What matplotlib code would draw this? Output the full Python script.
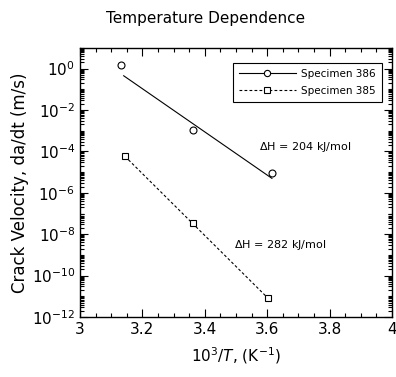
import numpy as np
import matplotlib
matplotlib.use('Agg')
import matplotlib.pyplot as plt
from matplotlib.ticker import LogLocator, MultipleLocator, NullFormatter, FixedLocator, FuncFormatter

# Specimen 386 (circles, solid fit line)
x_386 = [3.13, 3.362, 3.615]
v_386 = [1.5, 1.1e-3, 8.7e-6]
fit_x_386 = [3.14, 3.615]
fit_v_386 = [4.5e-1, 5.0e-6]

# Specimen 385 (squares, dashed fit line)
x_385 = [3.144, 3.362, 3.603]
v_385 = [5.8e-5, 3.5e-8, 8.0e-12]
fit_x_385 = [3.144, 3.603]
fit_v_385 = [5.8e-5, 8.0e-12]

notas = ['$\\Delta$H = 204 kJ/mol', '$\\Delta$H = 282 kJ/mol']
pos_notas = [(3.72, 1.7e-4), (3.64, 3e-9)]

plt.rcParams['font.family'] = 'DejaVu Sans'
plt.rcParams['mathtext.fontset'] = 'dejavusans'

fig = plt.figure(figsize=(3.96, 3.77), dpi=100)
ax = fig.add_axes([0.202, 0.159, 0.788, 0.714])

ax.plot(fit_x_386, fit_v_386, color='black', lw=0.8)
ax.plot(x_386, v_386, ls='none', marker='o', ms=5, mfc='white', mec='black', mew=0.8)
ax.plot(fit_x_385, fit_v_385, color='black', lw=0.8, ls=(0, (2.5, 2)))
ax.plot(x_385, v_385, ls='none', marker='s', ms=5, mfc='white', mec='black', mew=0.8)

# leyenda con línea + marcador
h1, = ax.plot([], [], color='black', lw=0.8, marker='o', ms=4.5, mfc='white', mec='black', mew=0.8)
h2, = ax.plot([], [], color='black', lw=0.8, ls=(0, (2.5, 2)), marker='s', ms=4.5, mfc='white', mec='black', mew=0.8)
leg = ax.legend([h1, h2], ['Specimen 386', 'Specimen 385'], loc='upper right',
                bbox_to_anchor=(0.985, 0.965), fontsize=7.5, fancybox=False, framealpha=1,
                edgecolor='black', handlelength=5.5, borderpad=0.6, labelspacing=0.7,
                handletextpad=0.5)
leg.get_frame().set_linewidth(0.8)

for txt, (xx, yy) in zip(notas, pos_notas):
    ax.text(xx, yy, txt, fontsize=8, ha='center', va='center')

ax.set_yscale('log')
ax.set_xlim(3, 4)
ax.set_ylim(1e-12, 1e1)
ax.xaxis.set_major_locator(MultipleLocator(0.2))
ax.xaxis.set_minor_locator(MultipleLocator(0.05))
ax.xaxis.set_major_formatter(FuncFormatter(lambda v, p: ('%.1f' % v).rstrip('0').rstrip('.')))
ax.yaxis.set_major_locator(FixedLocator([10.0 ** k for k in range(-12, 1, 2)]))
ax.yaxis.set_minor_locator(LogLocator(base=10, subs=np.arange(1, 10), numticks=40))
ax.yaxis.set_minor_formatter(NullFormatter())
ax.yaxis.set_major_formatter(FuncFormatter(lambda v, p: '$10^{%d}$' % round(np.log10(v))))

ax.tick_params(which='both', direction='in', top=True, right=True, labelsize=11, width=0.8)
ax.tick_params(which='major', length=6)
ax.tick_params(which='minor', length=3)
for s in ax.spines.values():
    s.set_linewidth(1.0)

ax.set_xlabel('$10^3/T$, (K$^{-1}$)', fontsize=11, labelpad=6)
ax.set_ylabel('Crack Velocity, da/dt (m/s)', fontsize=12, labelpad=2)
fig.text(0.52, 0.952, 'Temperature Dependence', ha='center', va='center', fontsize=11)

fig.savefig('out.png', dpi=100)
